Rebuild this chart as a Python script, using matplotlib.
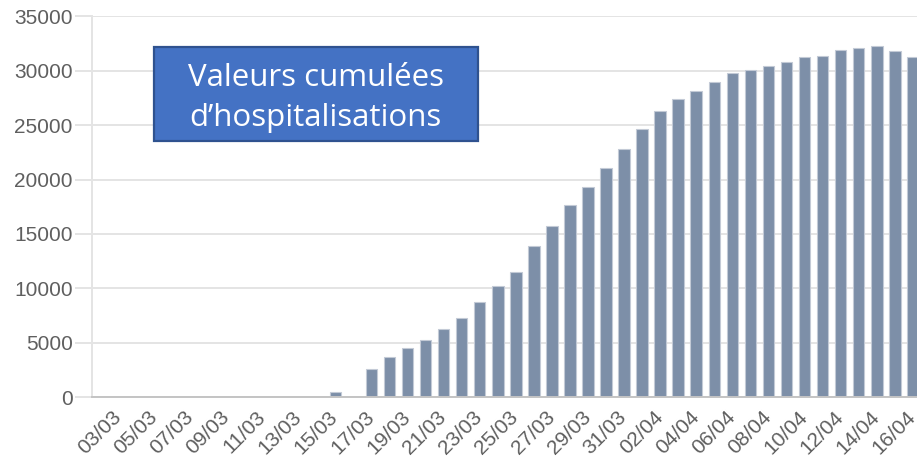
import matplotlib
matplotlib.use('Agg')
import matplotlib.pyplot as plt
from matplotlib.patches import Rectangle
from matplotlib.transforms import ScaledTranslation

# dates (day/month) and cumulative hospitalisations
dates = ["03/03", "04/03", "05/03", "06/03", "07/03", "08/03", "09/03", "10/03",
         "11/03", "12/03", "13/03", "14/03", "15/03", "16/03", "17/03", "18/03",
         "19/03", "20/03", "21/03", "22/03", "23/03", "24/03", "25/03", "26/03",
         "27/03", "28/03", "29/03", "30/03", "31/03", "01/04", "02/04", "03/04",
         "04/04", "05/04", "06/04", "07/04", "08/04", "09/04", "10/04", "11/04",
         "12/04", "13/04", "14/04", "15/04", "16/04"]
hospitalisations = [0, 0, 0, 0, 0, 0, 0, 0, 0, 0, 0, 0, 420, 0,
                    2600, 3640, 4500, 5265, 6210, 7260, 8730, 10200, 11540,
                    13930, 15740, 17670, 19350, 21050, 22790,
                    24690, 26280, 27440, 28180, 28950, 29780, 30050, 30420,
                    30810, 31300, 31370, 31890, 32130, 32310, 31800, 31300]
y_ticks = [0, 5000, 10000, 15000, 20000, 25000, 30000, 35000]

W, H = 917, 465
fig = plt.figure(figsize=(W / 100, H / 100), dpi=100)
ax = fig.add_axes([92 / W, 1 - 397 / H, 1 - 92 / W, (397 - 16.5) / H])

grid_col = "#e4e4e4"
x = list(range(len(dates)))
ax.bar(x, hospitalisations, width=0.64, color="#7d8fa8",
       edgecolor="#c3cad6", linewidth=0.8, zorder=3)

ax.set_xlim(-1.48, 44.23)
ax.set_ylim(0, 35000)
ax.set_yticks(y_ticks)
ax.set_yticklabels([str(v) for v in y_ticks])
ax.set_xticks(x[::2])
ax.set_xticklabels(dates[::2], rotation=45, ha="right", va="top",
                   rotation_mode="anchor")

ax.grid(axis="y", color=grid_col, linewidth=1.4, zorder=0)
ax.set_axisbelow(True)
for s in ["top", "right"]:
    ax.spines[s].set_visible(False)
ax.spines["left"].set_color(grid_col)
ax.spines["left"].set_linewidth(1.4)
ax.spines["bottom"].set_color("#c4c4c4")
ax.spines["bottom"].set_linewidth(1.4)
ax.spines["bottom"].set_zorder(4)

ax.tick_params(axis="y", length=12, width=1.4, color=grid_col, pad=2,
               labelsize=15, labelcolor="#5f5f5f")
ax.tick_params(axis="x", length=0, pad=6, labelsize=15, labelcolor="#5f5f5f")
# nudge the rotated date labels so their end sits under the bar
shift = ScaledTranslation(-7 / 100, -2 / 100, fig.dpi_scale_trans)
for lab in ax.get_xticklabels():
    lab.set_family("Liberation Sans")
    lab.set_transform(lab.get_transform() + shift)
for lab in ax.get_yticklabels():
    lab.set_family("Liberation Sans")

# title box
box = Rectangle((153.5 / W, 1 - 141.5 / H), (478 - 153.5) / W, (141.5 - 47.5) / H,
                transform=fig.transFigure, facecolor="#4472c4",
                edgecolor="#2f528f", linewidth=1.6, zorder=10)
fig.patches.append(box)
fig.text(315.5 / W, 1 - 98 / H, "Valeurs cumulées\nd\u2019hospitalisations",
         ha="center", va="center", color="white", fontsize=22.5,
         family="Open Sans", linespacing=1.42, zorder=11)

fig.savefig("out.png", dpi=100)
